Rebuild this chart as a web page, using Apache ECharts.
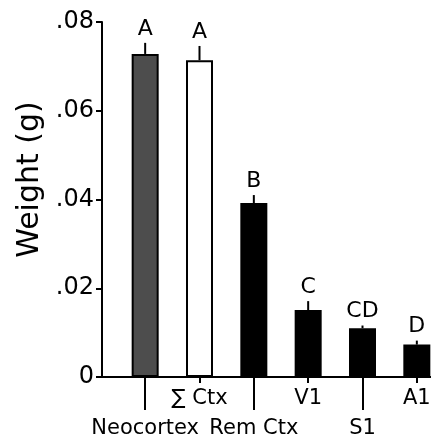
<!DOCTYPE html>
<html>
<head>
<meta charset="utf-8">
<script src="https://cdn.jsdelivr.net/npm/echarts@6/dist/echarts.min.js"></script>
<style>
html,body{margin:0;padding:0;background:#fff;}
#chart{width:431px;height:442px;}
</style>
</head>
<body>
<div id="chart"></div>
<script>
const categories = ['Neocortex', '\u2211 Ctx', 'Rem Ctx', 'V1', 'S1', 'A1'];
const weights = [0.0728, 0.0714, 0.0392, 0.0151, 0.0110, 0.0073];
const errors = [0.0025, 0.0032, 0.0018, 0.0020, 0.0006, 0.0009];
const groupLetters = ['A', 'A', 'B', 'C', 'CD', 'D'];
const barColors = ['#4d4d4d', '#ffffff', '#000000', '#000000', '#000000', '#000000'];
const yTickLabels = ['0', '.02', '.04', '.06', '.08'];

const FONT = 'DejaVu Sans';
const chart = echarts.init(document.getElementById('chart'), null, {renderer: 'canvas'});

const option = {
  animation: false,
  backgroundColor: '#fff',
  grid: [
    {left: 118, width: 326, top: 22, bottom: 65, containLabel: false, outerBoundsMode: 'none'},
    {left: 102, right: 0, top: 22, bottom: 65, containLabel: false, outerBoundsMode: 'none'}
  ],
  xAxis: [
    {
      type: 'category', gridIndex: 0, position: 'bottom', offset: 0,
      data: categories,
      axisLine: {show: true, lineStyle: {color: '#000', width: 2}},
      axisTick: {show: true, alignWithLabel: true, length: 6, interval: (i) => i % 2 === 1,
                 lineStyle: {color: '#000', width: 2}},
      axisLabel: {interval: (i) => i % 2 === 1, margin: 11, color: '#000', fontSize: 21, fontFamily: FONT},
      splitLine: {show: false}
    },
    {
      type: 'category', gridIndex: 0, position: 'bottom', offset: 0,
      data: categories,
      axisLine: {show: false},
      axisTick: {show: true, alignWithLabel: true, length: 33, interval: (i) => i % 2 === 0,
                 lineStyle: {color: '#000', width: 2}},
      axisLabel: {interval: (i) => i % 2 === 0, margin: 41, color: '#000', fontSize: 21, fontFamily: FONT},
      splitLine: {show: false}
    },
    {
      type: 'value', gridIndex: 1, min: 0, max: 1,
      axisLine: {show: true, lineStyle: {color: '#000', width: 2}},
      axisTick: {show: false}, axisLabel: {show: false}, splitLine: {show: false}
    }
  ],
  yAxis: [
    {
      type: 'value', gridIndex: 0, min: 0, max: 0.08, interval: 0.02, offset: 16,
      name: 'Weight (g)', nameLocation: 'middle', nameGap: 55,
      nameTextStyle: {color: '#000', fontSize: 30, fontFamily: FONT, padding: [0, 0, 0, 40]},
      axisLine: {show: true, lineStyle: {color: '#000', width: 2}},
      axisTick: {show: true, length: 6, lineStyle: {color: '#000', width: 2}},
      axisLabel: {
        margin: 8, color: '#000', fontSize: 24, fontFamily: FONT,
        formatter: (v) => yTickLabels[Math.round(v / 0.02)]
      },
      splitLine: {show: false}
    },
    {type: 'value', gridIndex: 1, show: false, min: 0, max: 1}
  ],
  series: [
    {
      type: 'bar', xAxisIndex: 0, yAxisIndex: 0,
      barWidth: 27,
      data: weights.map((w, i) => ({value: w, itemStyle: {color: barColors[i]}})),
      itemStyle: {borderColor: '#000', borderWidth: 2},
      z: 2
    },
    {
      type: 'custom', xAxisIndex: 0, yAxisIndex: 0, z: 3,
      data: categories.map((c, i) => [i, weights[i], errors[i]]),
      renderItem: function (params, api) {
        const x = api.value(0), v = api.value(1), e = api.value(2);
        const base = api.coord([x, v]);
        const top = api.coord([x, v + e]);
        return {
          type: 'group',
          children: [
            {type: 'line', shape: {x1: base[0], y1: base[1], x2: top[0], y2: top[1]},
             style: {stroke: '#000', lineWidth: 2}},
            {type: 'text', x: top[0], y: top[1] - 3,
             style: {text: groupLetters[params.dataIndex], fill: '#000', fontSize: 22,
                     fontFamily: FONT, align: 'center', verticalAlign: 'bottom'}}
          ]
        };
      }
    }
  ]
};
chart.setOption(option);
</script>
</body>
</html>
